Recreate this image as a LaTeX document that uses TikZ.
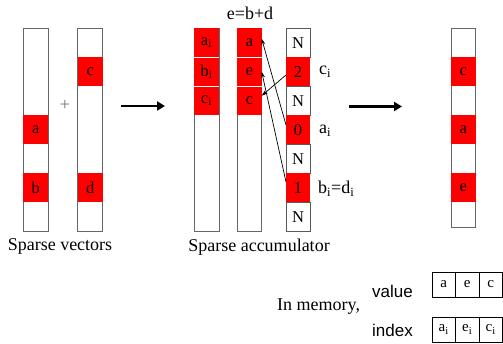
\documentclass[tikz,border=0pt]{standalone}
\usepackage{fontspec}
\setmainfont{Liberation Serif}
\newfontfamily\arialfont{Liberation Sans}
\usetikzlibrary{arrows.meta}

\begin{document}
\begin{tikzpicture}[x=1pt,y=-1pt,
  colbox/.style={draw=black!60, line width=0.8pt, inner sep=0pt, outer sep=0pt,
    minimum width=25pt, anchor=north west},
  redcell/.style={fill=red, inner sep=0pt, outer sep=0pt, minimum width=25pt,
    minimum height=28.5pt, anchor=north west, font=\fontsize{16.5}{19}\selectfont},
  ncell/.style={draw=black!65, fill=white, line width=0.8pt, inner sep=0pt, outer sep=0pt,
    minimum width=24pt, minimum height=29pt, anchor=north west,
    font=\fontsize{16.5}{19}\selectfont},
  memcell/.style={draw=black, line width=0.6pt, inner sep=0pt, outer sep=0pt,
    minimum width=23.5pt, minimum height=25pt, anchor=north west,
    font=\fontsize{15}{18}\selectfont},
  lbl/.style={inner sep=0pt, font=\fontsize{18}{21}\selectfont},
  bigarrow/.style={line width=2.6pt, -{Triangle[length=8pt,width=9pt]}},
  ptr/.style={line width=0.7pt, -{Stealth[length=6pt,width=4pt]}},
  sep/.style={white, line width=0.8pt}]
\useasboundingbox (0,0) rectangle (503,344);

% ---- input sparse vectors ----
\node[colbox, minimum height=203pt] (v1) at (23.3,28.5) {};
\node[redcell] (v1a) at (23.3,115.5) {a};
\node[redcell] (v1b) at (23.3,173.5) {b};

\node[colbox, minimum height=203pt] (v2) at (77.7,28.5) {};
\node[redcell] (v2c) at (77.7,57.5) {c};
\node[redcell] (v2d) at (77.7,173.5) {d};

\node[lbl, text=black!55] (plus) at (65,105) {+};
\node[lbl] (svlabel) at (60,246) {Sparse vectors};

\coordinate (arA1) at (121,106);
\coordinate (arA2) at (165,106);
\draw[bigarrow] (arA1) -- (arA2);

% ---- sparse accumulator ----
\node[colbox, minimum height=203pt] (c1) at (194,28.5) {};
\node[redcell] (c1a) at (194,28.5) {a\textsubscript{i}};
\node[redcell] (c1b) at (194,57.5) {b\textsubscript{i}};
\node[redcell] (c1c) at (194,86.5) {c\textsubscript{i}};
\draw[sep] (c1b.north west) -- (c1b.north east);
\draw[sep] (c1c.north west) -- (c1c.north east);

\node[colbox, minimum width=24.4pt, minimum height=203pt] (c2) at (237.3,28.5) {};
\node[redcell, minimum width=24.4pt] (c2a) at (237.3,28.5) {a};
\node[redcell, minimum width=24.4pt] (c2e) at (237.3,57.5) {e};
\node[redcell, minimum width=24.4pt] (c2c) at (237.3,86.5) {c};
\draw[sep] (c2e.north west) -- (c2e.north east);
\draw[sep] (c2c.north west) -- (c2c.north east);

\node[ncell] (s0) at (286,28.5) {N};
\node[redcell, minimum width=24pt, minimum height=29pt] (s1) at (286,57.5) {2};
\node[ncell] (s2) at (286,86.5) {N};
\node[redcell, minimum width=24pt, minimum height=29pt] (s3) at (286,115.5) {0};
\node[ncell] (s4) at (286,144.5) {N};
\node[redcell, minimum width=24pt, minimum height=29pt] (s5) at (286,173.5) {1};
\node[ncell] (s6) at (286,202.5) {N};

\node[lbl, anchor=west] (lc) at (319,72) {c\textsubscript{i}};
\node[lbl, anchor=west] (la) at (319,131) {a\textsubscript{i}};
\node[lbl, anchor=west] (lb) at (318,189) {b\textsubscript{i}=d\textsubscript{i}};
\node[lbl] (sum) at (250,13) {e=b+d};
\node[lbl] (salabel) at (259,247) {Sparse accumulator};

\draw[ptr] ([yshift=5pt]s3.west) -- ([yshift=4pt]c2a.east);
\draw[ptr] ([yshift=6pt]s5.west) -- (c2e.east);
\draw[ptr] ([yshift=-3pt]s1.west) -- ([yshift=5pt]c2c.east);

\coordinate (arB1) at (349,106.5);
\coordinate (arB2) at (402,106.5);
\draw[bigarrow] (arB1) -- (arB2);

% ---- result vector ----
\node[colbox, minimum width=24.7pt, minimum height=199pt] (r) at (451,28.5) {};
\node[redcell, minimum width=24.7pt] (rc) at (451,57.5) {c};
\node[redcell, minimum width=24.7pt] (ra) at (451,115.5) {a};
\node[redcell, minimum width=24.7pt] (re) at (451,173.5) {e};

% ---- memory layout ----
\node[lbl, anchor=west] (mem) at (277,307) {In memory,};
\node[lbl, anchor=west, font=\arialfont\fontsize{17}{20}\selectfont] (valname) at (372,291) {value};
\node[lbl, anchor=west, font=\arialfont\fontsize{17}{20}\selectfont] (idxname) at (372,330) {index};

\node[memcell] (m1) at (432,272) {a};
\node[memcell] (m2) at (455.5,272) {e};
\node[memcell] (m3) at (479,272) {c};
\node[memcell] (n1) at (432,317) {a\textsubscript{i}};
\node[memcell] (n2) at (455.5,317) {e\textsubscript{i}};
\node[memcell] (n3) at (479,317) {c\textsubscript{i}};
\end{tikzpicture}
\end{document}
